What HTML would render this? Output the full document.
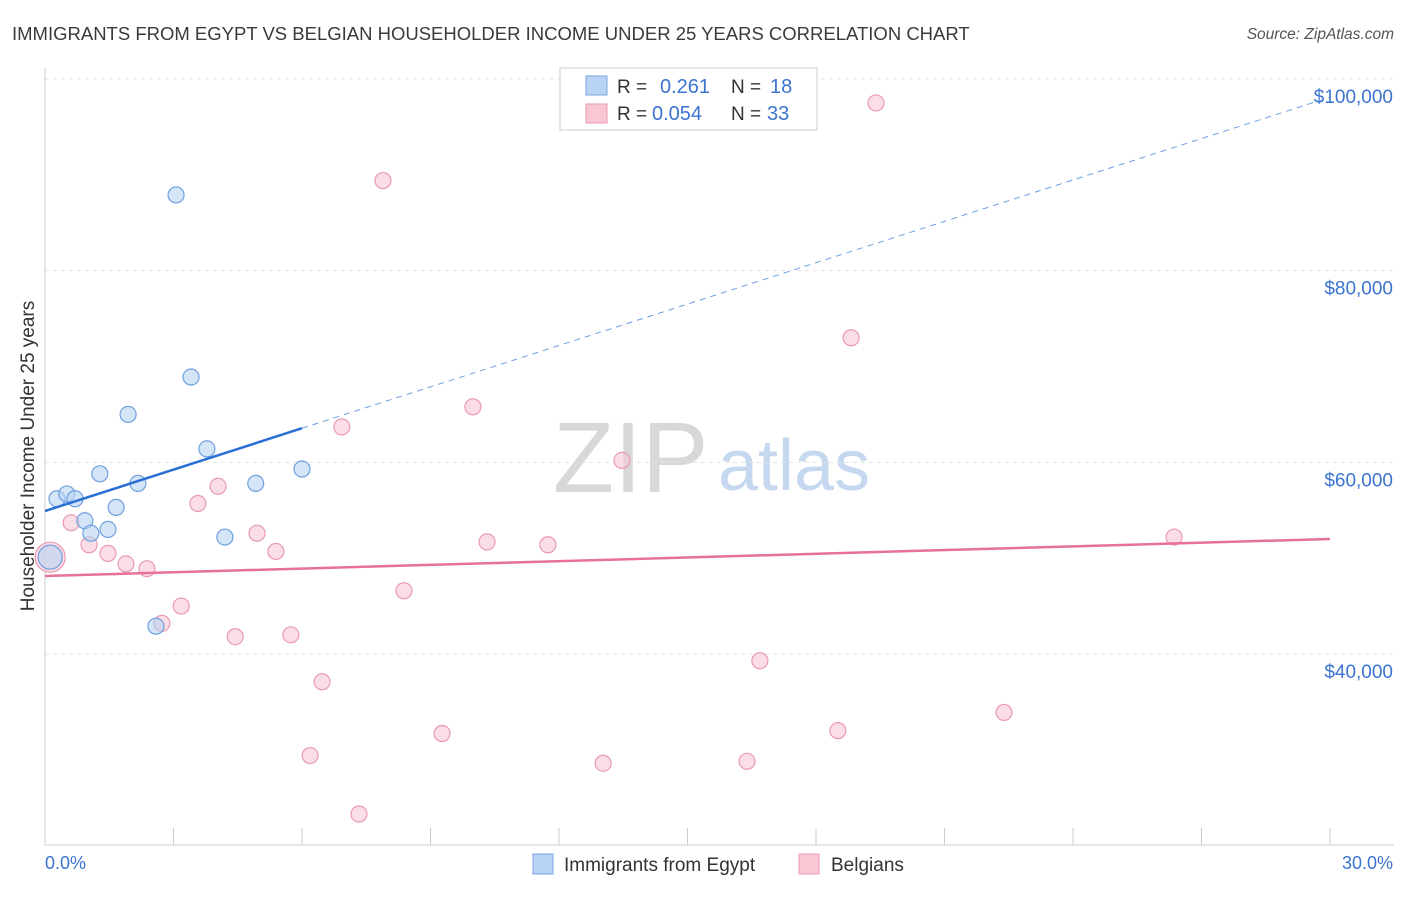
<!DOCTYPE html>
<html><head><meta charset="utf-8"><style>
body{margin:0;background:#fff;font-family:"Liberation Sans",sans-serif;}
svg text{font-family:"Liberation Sans",sans-serif;}
</style></head><body>
<svg id="chart" width="1406" height="892">
<text x="12" y="40" font-size="18.5" fill="#3a3a3a">IMMIGRANTS FROM EGYPT VS BELGIAN HOUSEHOLDER INCOME UNDER 25 YEARS CORRELATION CHART</text>
<text x="1394" y="39" font-size="15.5" fill="#555" text-anchor="end" font-style="italic">Source: ZipAtlas.com</text>
<text x="34" y="456" font-size="19" fill="#333" text-anchor="middle" transform="rotate(-90 34 456)">Householder Income Under 25 years</text>
<text x="553" y="492" font-size="100" fill="#d8d8d8" font-family="Liberation Serif">ZIP</text>
<text x="718" y="490" font-size="72" fill="#c5d8ef">atlas</text>
<g id="grid"></g><g id="marks"></g>
<g>
<rect x="560" y="68" width="257" height="62" fill="#fff" stroke="#ccc"/>
<rect x="586" y="76" width="21" height="19" fill="#b8d3f4" stroke="#7aa6e0"/>
<rect x="586" y="104" width="21" height="19" fill="#f9c6d4" stroke="#e99ab2"/>
<text x="617" y="93" font-size="19" fill="#333">R = </text><text x="660" y="93" font-size="20" fill="#3b74d0">0.261</text>
<text x="731" y="93" font-size="19" fill="#333">N = </text><text x="770" y="93" font-size="20" fill="#3b74d0">18</text>
<text x="617" y="120" font-size="19" fill="#333">R = </text><text x="652" y="120" font-size="20" fill="#3b74d0">0.054</text>
<text x="731" y="120" font-size="19" fill="#333">N = </text><text x="767" y="120" font-size="20" fill="#3b74d0">33</text>
</g>
<g>
<rect x="533" y="854" width="20" height="20" fill="#b8d3f4" stroke="#7aa6e0"/>
<text x="564" y="871" font-size="19" fill="#333">Immigrants from Egypt</text>
<rect x="799" y="854" width="20" height="20" fill="#f9c6d4" stroke="#e99ab2"/>
<text x="831" y="871" font-size="19" fill="#333">Belgians</text>
</g>
<text x="45" y="869" font-size="18" fill="#3b74d0">0.0%</text>
<text x="1393" y="869" font-size="18" fill="#3b74d0" text-anchor="end">30.0%</text>
</svg>
<script>
const yTicks=[40000,60000,80000,100000];
const yTickLabels=["$40,000","$60,000","$80,000","$100,000"];
const egyptX=[0.28,0.51,0.70,0.93,1.07,1.28,1.47,1.66,1.94,2.17,2.59,3.06,3.41,3.78,4.20,4.92,6.00,0.12];
const egyptY=[56200,56700,56200,53900,52600,58800,53000,55300,65000,57800,42900,87900,68900,61400,52200,57800,59300,50100];
const belgX=[0.12,0.61,1.03,1.47,1.89,2.38,2.73,3.18,3.57,4.04,4.44,4.95,5.39,5.74,6.19,6.47,6.93,7.33,7.89,8.38,9.27,9.99,10.32,11.74,13.03,13.47,16.39,16.69,18.51,18.82,19.40,22.39,26.36];
const belgY=[50100,53700,51400,50500,49400,48900,43200,45000,55700,57500,41800,52600,50700,42000,29400,37100,63700,23300,89400,46600,31700,65800,51700,51400,28600,60200,28800,39300,32000,73000,97500,33900,52200];
const egyptTrend=[54920,98100];
const belgTrend=[48140,52000];
const NS="http://www.w3.org/2000/svg";
const xs=p=>45+p*(1285/30);
const ys=v=>79+(100000-v)*0.009583;
function mk(t,a,parent){const e=document.createElementNS(NS,t);for(const k in a)e.setAttribute(k,a[k]);parent.appendChild(e);return e;}
const grid=document.getElementById('grid'),marks=document.getElementById('marks');
yTicks.forEach((v,i)=>{
 const l=mk('line',{x1:45,x2:1394,y1:ys(v),y2:ys(v),stroke:'#e3e3e3','stroke-dasharray':'4,4'},grid);
 
 
 const t=mk('text',{x:1393,y:ys(v)+24,'font-size':19,fill:'#3b74d0','text-anchor':'end'},grid);
 t.textContent=yTickLabels[i];
 
 
});
mk('line',{x1:45,x2:45,y1:68,y2:845,stroke:'#ccc'},grid);
mk('line',{x1:45,x2:1394,y1:845,y2:845,stroke:'#ccc'},grid);
for(let i=0;i<=10;i++){const t=mk('line',{x1:xs(i*3),x2:xs(i*3),y1:828,y2:845,stroke:'#ccc'},grid);
 
 }
function dot(x,y,r,fill,stroke,name){const c=mk('circle',{cx:xs(x),cy:ys(y),r:r,fill:fill,stroke:stroke,'stroke-width':1.2,'fill-opacity':0.6},marks);
 
 }
belgX.forEach((x,i)=>dot(x,belgY[i],i==0?15:8,'#f9c6d4','#e99ab2','point-belgians'));
egyptX.forEach((x,i)=>dot(x,egyptY[i],i==egyptX.length-1?12:8,'#b8d3f4','#6f9fe0','point-egypt'));
const lerp=(a,p)=>a[0]+(a[1]-a[0])*p/30;
const bl=mk('line',{x1:xs(0),y1:ys(lerp(belgTrend,0)),x2:xs(30),y2:ys(lerp(belgTrend,30)),stroke:'#e8719a','stroke-width':2.5},marks);


const el=mk('line',{x1:xs(0),y1:ys(lerp(egyptTrend,0)),x2:xs(6),y2:ys(lerp(egyptTrend,6)),stroke:'#2a6fd4','stroke-width':2.5},marks);


const ed=mk('line',{x1:xs(6),y1:ys(lerp(egyptTrend,6)),x2:xs(30),y2:ys(lerp(egyptTrend,30)),stroke:'#6f9fe0','stroke-width':1,'stroke-dasharray':'6,5'},marks);


</script>
</body></html>
